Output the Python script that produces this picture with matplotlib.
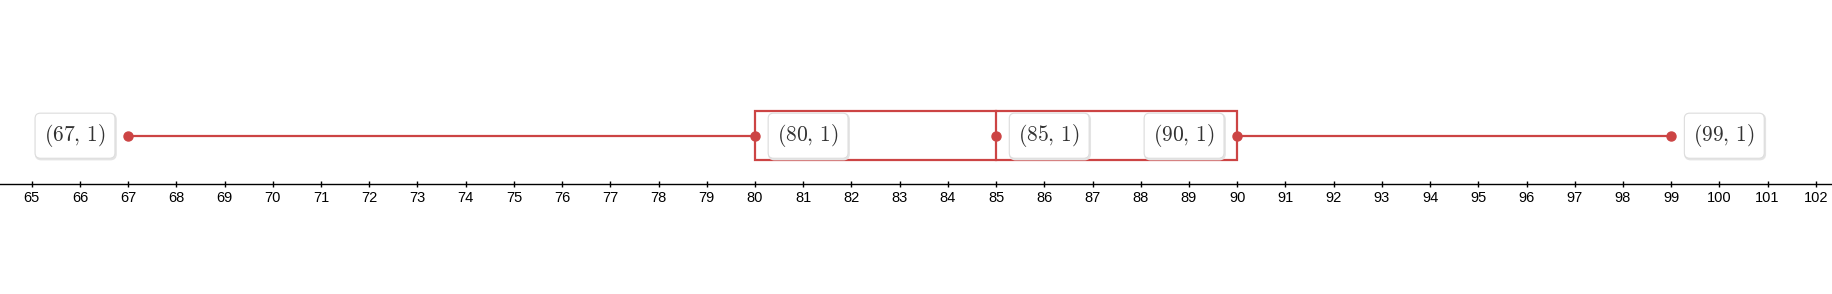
import numpy as np
import matplotlib.pyplot as plt
from matplotlib.patches import Rectangle

plt.rcParams['mathtext.fontset'] = 'cm'
plt.rcParams['font.family'] = ['Liberation Sans', 'DejaVu Sans']

# five number summary
stats = [67, 80, 85, 90, 99]
labels = [r'$(67,\,1)$', r'$(80,\,1)$', r'$(85,\,1)$', r'$(90,\,1)$', r'$(99,\,1)$']
sides = ['left', 'right', 'right', 'left', 'right']
ticks = list(range(65, 103))

red = '#cc4444'

fig = plt.figure(figsize=(18.33, 2.94), dpi=100)
ax = fig.add_axes([0, 0, 1, 1])
ax.set_xlim(64.343, 102.356)
ax.set_ylim(-2.257, 3.792)

mn, q1, med, q3, mx = stats

# box + median
ax.add_patch(Rectangle((q1, 0.5), q3 - q1, 1.0, fill=False, edgecolor=red, lw=1.6, zorder=3))
ax.plot([med, med], [0.5, 1.5], color=red, lw=1.6, zorder=3)
# whiskers
ax.plot([mn, q1], [1, 1], color=red, lw=1.6, zorder=3)
ax.plot([q3, mx], [1, 1], color=red, lw=1.6, zorder=3)
ax.plot(stats, [1] * len(stats), 'o', color=red, ms=6.5, zorder=4)

for x, lab, side in zip(stats, labels, sides):
    off = -16 if side == 'left' else 16
    ha = 'right' if side == 'left' else 'left'
    # soft shadow behind the label box
    ax.annotate(lab, (x, 1), xytext=(off + 0.6, -0.8), textcoords='offset points',
                ha=ha, va='center', fontsize=15.5, color='none', zorder=4.5,
                bbox=dict(boxstyle='round,pad=0.42,rounding_size=0.25',
                          fc='#eeeeee', ec='#e4e4e4', lw=1.5))
    ax.annotate(lab, (x, 1), xytext=(off, 0), textcoords='offset points',
                ha=ha, va='center', fontsize=15.5, color='#333333', zorder=5,
                bbox=dict(boxstyle='round,pad=0.42,rounding_size=0.25',
                          fc='white', ec='#dddddd', lw=0.8))

# number line
for s in ['top', 'right', 'left']:
    ax.spines[s].set_visible(False)
ax.spines['bottom'].set_position(('data', 0))
ax.spines['bottom'].set_linewidth(1.0)
ax.set_xticks(ticks)
ax.set_xticklabels([str(t) for t in ticks], fontsize=10.5)
ax.tick_params(axis='x', direction='inout', length=5, width=1, pad=2.5)
ax.set_yticks([])
ax.patch.set_alpha(0)

fig.savefig('out.png', dpi=100)
